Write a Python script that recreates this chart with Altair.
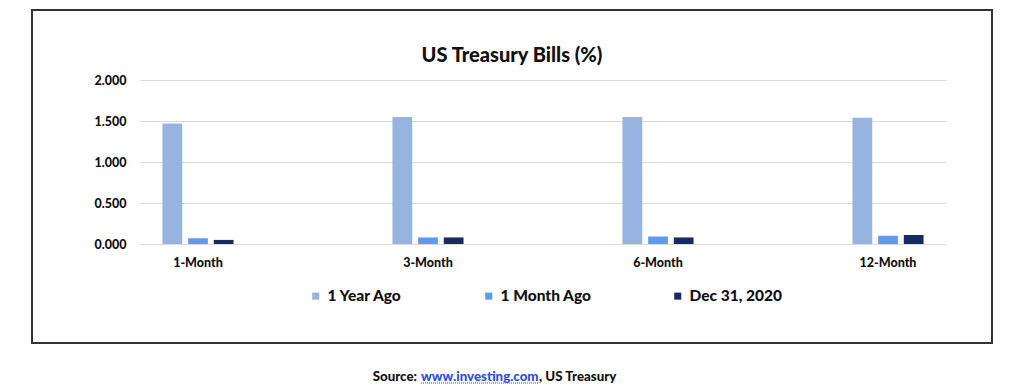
import altair as alt
import pandas as pd

categories = ["1-Month", "3-Month", "6-Month", "12-Month"]
series = ["1 Year Ago", "1 Month Ago", "Dec 31, 2020"]
year_ago = [1.47, 1.55, 1.55, 1.54]
month_ago = [0.07, 0.08, 0.09, 0.10]
dec31 = [0.05, 0.08, 0.08, 0.11]
colors = ["#97B4E0", "#5E9BF0", "#182B60"]
y_ticks = [0, 0.5, 1.0, 1.5, 2.0]

rows = []
for i, c in enumerate(categories):
    for s, vals in zip(series, [year_ago, month_ago, dec31]):
        rows.append({"tenor": c, "series": s, "value": vals[i]})
df = pd.DataFrame(rows)

FONT = "Lato"
W, H = 806, 164

bars = alt.Chart(df).mark_bar().encode(
    x=alt.X("tenor:N", sort=categories,
            scale=alt.Scale(paddingInner=0.691, paddingOuter=0.0976),
            axis=alt.Axis(title=None, labelAngle=0, domain=False, ticks=False, grid=False,
                          labelFont=FONT, labelFontWeight=900, labelFontSize=12.5,
                          labelColor="#111111", labelPadding=12)),
    xOffset=alt.XOffset("series:N", sort=series,
                        scale=alt.Scale(paddingInner=0.23, paddingOuter=0)),
    y=alt.Y("value:Q", scale=alt.Scale(domain=[0, 2]),
            axis=alt.Axis(title=None, values=y_ticks, format=".3f", domain=False, ticks=False,
                          gridColor="#D9D9D9", gridWidth=1.2,
                          labelFont=FONT, labelFontWeight=900, labelFontSize=12.5,
                          labelColor="#111111", labelPadding=14)),
    color=alt.Color("series:N", sort=series,
                    scale=alt.Scale(domain=series, range=colors),
                    legend=alt.Legend(title=None, orient="none", legendX=168, legendY=208,
                                      direction="horizontal", symbolType="square",
                                      symbolSize=50, symbolStrokeWidth=0,
                                      labelFont=FONT, labelFontWeight=900, labelFontSize=15.5,
                                      labelColor="#111111", labelOffset=4, columnPadding=78)),
)

one = pd.DataFrame({"k": [0]})

border = alt.Chart(one).mark_rect(fillOpacity=0, stroke="#333333", strokeWidth=2).encode(
    x=alt.value(-108), x2=alt.value(852), y=alt.value(-70), y2=alt.value(263)
)

title = alt.Chart(pd.DataFrame({"t": ["US Treasury Bills (%)"]})).mark_text(
    font=FONT, fontWeight=900, fontSize=20, color="#111111", align="center", baseline="alphabetic"
).encode(text="t:N", x=alt.value(372), y=alt.value(-18))

src1 = alt.Chart(pd.DataFrame({"t": ["Source:"]})).mark_text(
    font=FONT, fontWeight=900, fontSize=13.3, color="#111111", align="right", baseline="alphabetic"
).encode(text="t:N", x=alt.value(277), y=alt.value(301))
src2 = alt.Chart(pd.DataFrame({"t": ["www.investing.com"]})).mark_text(
    font=FONT, fontWeight=900, fontSize=13.3, color="#2B4FD8", align="left", baseline="alphabetic"
).encode(text="t:N", x=alt.value(281), y=alt.value(301))
src3 = alt.Chart(pd.DataFrame({"t": [",  US Treasury"]})).mark_text(
    font=FONT, fontWeight=900, fontSize=13.3, color="#111111", align="left", baseline="alphabetic"
).encode(text="t:N", x=alt.value(399), y=alt.value(301))
underline = alt.Chart(one).mark_rule(color="#2B4FD8", strokeWidth=1, strokeDash=[1, 1]).encode(
    x=alt.value(281), x2=alt.value(398), y=alt.value(303)
)

chart = alt.layer(border, bars, title, src1, src2, src3, underline).properties(
    width=W, height=H,
    autosize=alt.AutoSizeParams(type="none"),
    padding={"left": 132, "top": 72, "right": 70, "bottom": 145},
).configure_view(stroke=None)

chart.save("out.html", embed_options={"renderer": "svg", "actions": False})
